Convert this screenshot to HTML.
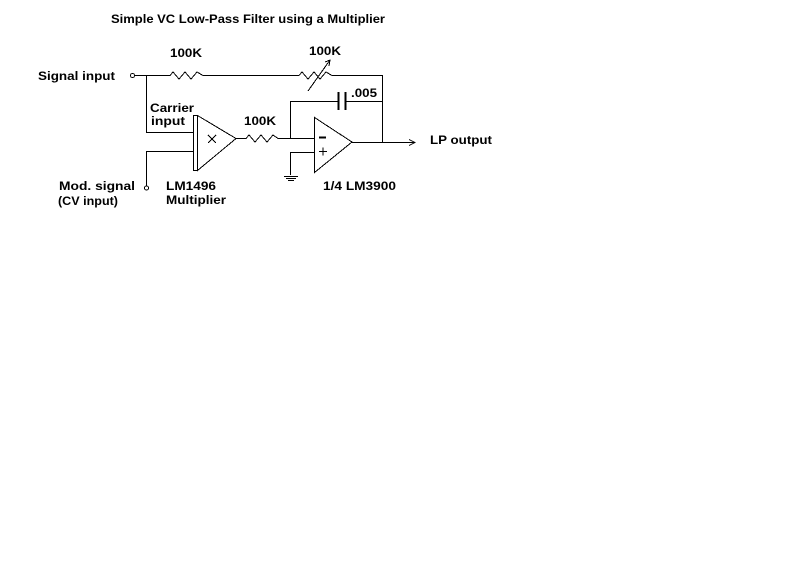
<!DOCTYPE html>
<html><head><style>body{margin:0;background:#fff}svg{display:block}text{font-family:"Liberation Sans",sans-serif;font-weight:bold;font-size:12px;fill:#000}</style></head>
<body>
<svg width="800" height="562" viewBox="0 0 800 562" xmlns="http://www.w3.org/2000/svg">
<g stroke="#000" stroke-width="1" fill="none" shape-rendering="crispEdges">
<!-- top signal line -->
<circle cx="132.5" cy="75.5" r="2" fill="#fff"/>
<polyline points="135,75.5 170,75.5 173,72 179,79 185,72 191,79 197,72 203,75.5 299,75.5"/>
<polyline points="299,75.5 302,72 308,79 314,72 320,79 326,72 332,75.5 382.5,75.5 382.5,142"/>
<line x1="308" y1="91" x2="330" y2="60"/>
<polyline points="325,62 330,60 329,66"/>
<!-- carrier -->
<polyline points="146.5,75.5 146.5,132.5 193,132.5"/>
<polyline points="193,151.5 146.5,151.5 146.5,186"/>
<circle cx="146.5" cy="188" r="2" fill="#fff"/>
<!-- multiplier -->
<rect x="193.5" y="115.5" width="4" height="55"/>
<polygon points="197.5,115.5 236,138.5 197.5,170.5"/>
<line x1="208" y1="135" x2="216" y2="143"/>
<line x1="216" y1="135" x2="208" y2="143"/>
<!-- 100K to opamp -->
<polyline points="236,138.5 246,138.5 249,135 255,142 261,135 267,142 273,135 278,138.5 314,138.5"/>
<!-- cap -->
<polyline points="290.5,138.5 290.5,101.5 338,101.5"/>
<polyline points="345,101.5 382.5,101.5"/>
<line x1="338.5" y1="92" x2="338.5" y2="110" stroke-width="2"/>
<line x1="345.5" y1="92" x2="345.5" y2="110" stroke-width="2"/>
<!-- opamp -->
<polygon points="314.5,117.5 352,142 314.5,172.5"/>
<polyline points="314,152.5 290.5,152.5 290.5,175"/>
<line x1="284" y1="176.5" x2="298" y2="176.5"/>
<line x1="286" y1="178.5" x2="296" y2="178.5"/>
<line x1="288" y1="180.5" x2="294" y2="180.5"/>
<line x1="319" y1="137.5" x2="326" y2="137.5" stroke-width="2"/>
<line x1="319" y1="151.5" x2="327" y2="151.5"/>
<line x1="323" y1="147.5" x2="323" y2="155.5"/>
<!-- output -->
<line x1="352" y1="142.5" x2="415" y2="142.5"/>
<polyline points="409,139.5 415,142.5 409,145.5"/>
</g>
<text x="111" y="23" textLength="274" lengthAdjust="spacingAndGlyphs">Simple VC Low-Pass Filter using a Multiplier</text>
<text x="38" y="80" textLength="77" lengthAdjust="spacingAndGlyphs">Signal input</text>
<text x="170" y="57" textLength="32" lengthAdjust="spacingAndGlyphs">100K</text>
<text x="309" y="55" textLength="32" lengthAdjust="spacingAndGlyphs">100K</text>
<text x="150" y="112" textLength="44" lengthAdjust="spacingAndGlyphs">Carrier</text>
<text x="151" y="125" textLength="34" lengthAdjust="spacingAndGlyphs">input</text>
<text x="244" y="125" textLength="32" lengthAdjust="spacingAndGlyphs">100K</text>
<text x="351" y="97" textLength="26" lengthAdjust="spacingAndGlyphs">.005</text>
<text x="430" y="144" textLength="62" lengthAdjust="spacingAndGlyphs">LP output</text>
<text x="59" y="190" textLength="76" lengthAdjust="spacingAndGlyphs">Mod. signal</text>
<text x="58" y="205" textLength="60" lengthAdjust="spacingAndGlyphs">(CV input)</text>
<text x="166" y="190" textLength="50" lengthAdjust="spacingAndGlyphs">LM1496</text>
<text x="166" y="204" textLength="60" lengthAdjust="spacingAndGlyphs">Multiplier</text>
<text x="323" y="190" textLength="73" lengthAdjust="spacingAndGlyphs">1/4 LM3900</text>
</svg>
</body></html>
